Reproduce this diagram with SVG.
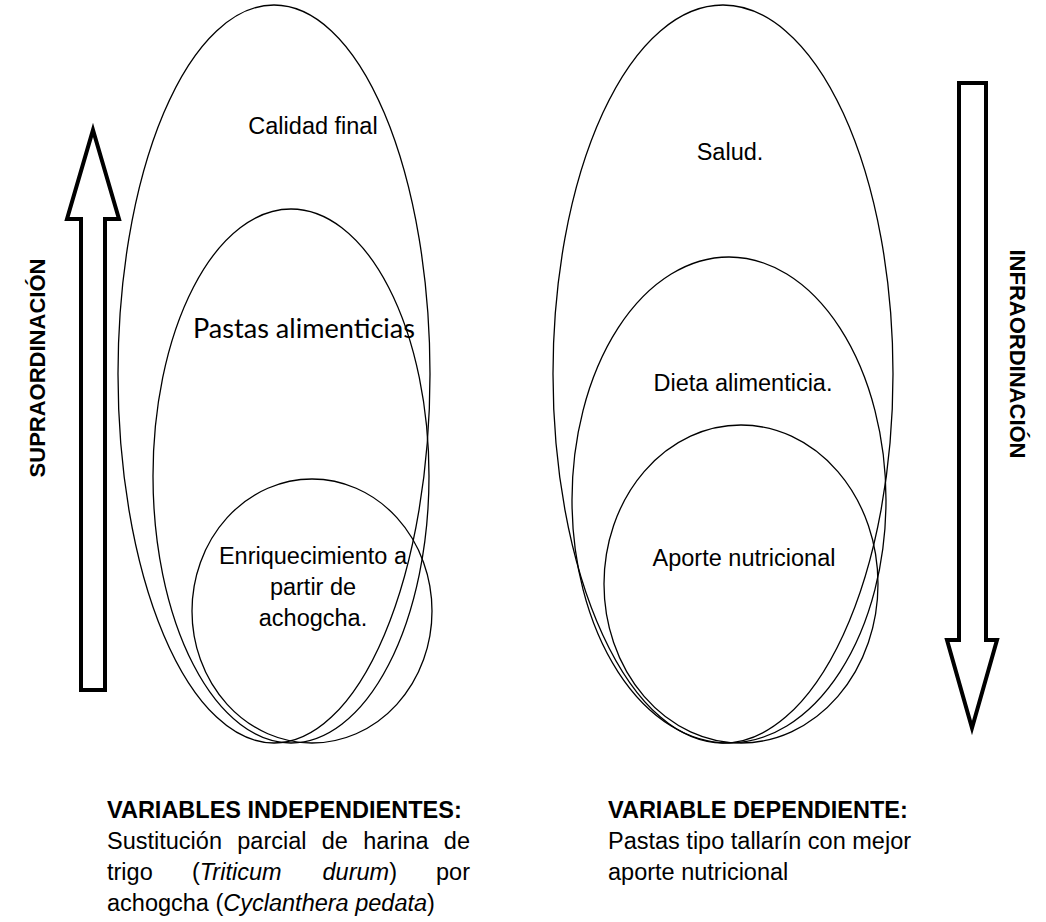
<svg xmlns="http://www.w3.org/2000/svg" width="1046" height="922" viewBox="0 0 1046 922">
<style>
.el{fill:none;stroke:#000;stroke-width:1.3}
.arr{fill:#fff;stroke:#000;stroke-width:4;stroke-linejoin:miter}
.t{font-family:"Liberation Sans",Arial,sans-serif;font-size:23.5px;fill:#000}
.c{text-anchor:middle}
.e{text-anchor:end}
.b{font-weight:bold}
.i{font-style:italic}
.cal{font-family:Lato,"Open Sans",sans-serif;font-size:26px;fill:#000;text-anchor:middle}
.side{font-family:"Liberation Sans",Arial,sans-serif;font-size:22px;font-weight:bold;text-anchor:middle}
</style>
<rect width="1046" height="922" fill="#fff"/>
<g id="arrow-up">
<polygon class="arr" points="93,130 119,219 105,219 105,690 81,690 81,219 67,219"/>
</g>
<g id="arrow-down">
<polygon class="arr" points="959,83 986,83 986,640 997,640 972,728 947,640 959,640"/>
</g>
<g id="label-supra"><text class="side" transform="translate(45,368) rotate(-90)">SUPRAORDINACIÓN</text></g>
<g id="label-infra"><text class="side" transform="translate(1010,354) rotate(90)">INFRAORDINACIÓN</text></g>
<g id="calidad-final">
<ellipse class="el" cx="274" cy="374" rx="156" ry="369"/>
<text class="t c" x="313" y="134">Calidad final</text>
</g>
<g id="pastas-alimenticias">
<ellipse class="el" cx="291" cy="476" rx="138" ry="267"/>
<text class="cal" x="304" y="338" textLength="222" lengthAdjust="spacingAndGlyphs">Pastas alimenticias</text>
</g>
<g id="enriquecimiento">
<ellipse class="el" cx="312" cy="611" rx="120" ry="132"/>
<text class="t c" x="313" y="564">Enriquecimiento a</text>
<text class="t c" x="313" y="595">partir de</text>
<text class="t c" x="313" y="626">achogcha.</text>
</g>
<g id="salud">
<ellipse class="el" cx="723" cy="374" rx="170" ry="369"/>
<text class="t c" x="730" y="160">Salud.</text>
</g>
<g id="dieta">
<ellipse class="el" cx="729" cy="500" rx="157" ry="243"/>
<text class="t c" x="743" y="391">Dieta alimenticia.</text>
</g>
<g id="aporte">
<ellipse class="el" cx="741" cy="584" rx="137" ry="159"/>
<text class="t c" x="744" y="566">Aporte nutricional</text>
</g>
<g id="var-independientes">
<text class="t b" x="107" y="818">VARIABLES INDEPENDIENTES:</text>
<text class="t" y="849"><tspan x="107">Sustitución</tspan><tspan x="237.3">parcial</tspan><tspan x="321.8">de</tspan><tspan x="363.3">harina</tspan></text>
<text class="t e" x="470" y="849">de</text>
<text class="t" y="880"><tspan x="107">trigo</tspan><tspan x="191.9">(<tspan class="i">Triticum</tspan></tspan><tspan x="322.5"><tspan class="i">durum</tspan>)</tspan></text>
<text class="t e" x="470" y="880">por</text>
<text class="t" x="107" y="911">achogcha (<tspan class="i">Cyclanthera pedata</tspan>)</text>
</g>
<g id="var-dependiente">
<text class="t b" x="608" y="818">VARIABLE DEPENDIENTE:</text>
<text class="t" x="608" y="849">Pastas tipo tallarín con mejor</text>
<text class="t" x="608" y="880">aporte nutricional</text>
</g>
<g id="connectors"></g>
</svg>
